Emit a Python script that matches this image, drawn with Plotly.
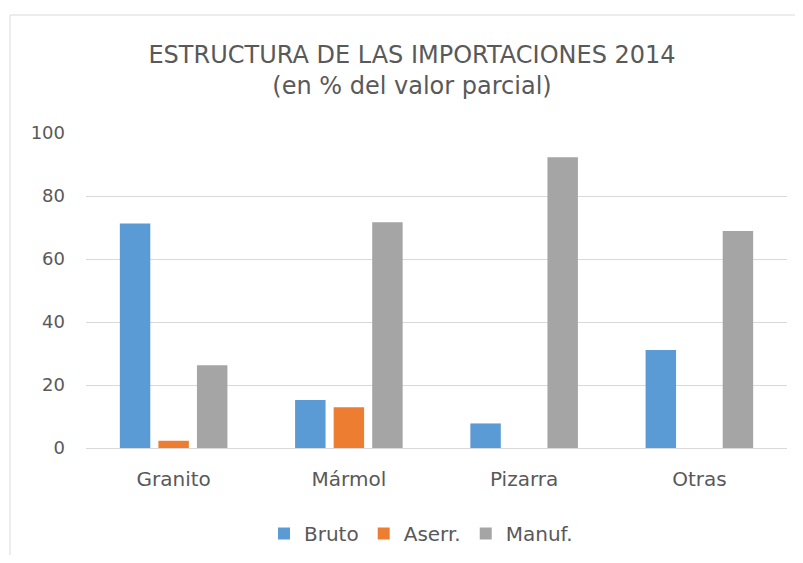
import plotly.graph_objects as go

categories = ["Granito", "Mármol", "Pizarra", "Otras"]
bruto = [71.3, 15.2, 7.8, 31.1]
aserr = [2.3, 12.9, 0, 0]
manuf = [26.3, 71.7, 92.3, 68.9]
y_ticks = [0, 20, 40, 60, 80, 100]

series = [("Bruto", bruto, "#5B9BD5"), ("Aserr.", aserr, "#ED7D31"), ("Manuf.", manuf, "#A5A5A5")]

# page body has an 8px margin, so the figure is shrunk and shifted to avoid overflow
W, H = 787, 547
L, R, T, B = 78, 8, 125, 107
pw, ph = W - L - R, H - T - B

fig = go.Figure()
for name, vals, col in series:
    fig.add_trace(go.Bar(x=categories, y=vals, name=name, marker=dict(color=col, line=dict(width=0))))

font_fam = "DejaVu Sans"
txt = "#595959"
frame = dict(color="#D9D9D9", width=1)
fx0 = (2 - L) / pw
fy1 = (H - B - 7) / ph

fig.update_layout(
    width=W, height=H,
    margin=dict(l=L, r=R, t=T, b=B),
    paper_bgcolor="white", plot_bgcolor="white",
    barmode="group", bargap=0.34, bargroupgap=0.21,
    font=dict(family=font_fam, color=txt),
    title=dict(text="ESTRUCTURA DE LAS IMPORTACIONES 2014<br>(en % del valor parcial)",
               x=404 / W, xref="container", xanchor="center",
               y=1 - 55 / H, yref="container", yanchor="top",
               font=dict(size=24, color=txt, family=font_fam)),
    legend=dict(orientation="h", x=413 / W, xref="container", xanchor="center",
                y=1 - 506 / H, yref="container", yanchor="top",
                font=dict(size=20, color=txt), itemwidth=30, traceorder="normal"),
    xaxis=dict(showgrid=False, showline=False, zeroline=False, ticks="",
               tickfont=dict(size=20, color=txt), ticklabelstandoff=17),
    yaxis=dict(range=[0, 100], tickvals=y_ticks, showgrid=True, gridcolor="#D9D9D9", gridwidth=1,
               zeroline=True, zerolinecolor="#D9D9D9", zerolinewidth=1, showline=False,
               ticks="", tickfont=dict(size=18, color=txt), ticklabelstandoff=20),
    shapes=[
        dict(type="line", xref="paper", yref="paper", x0=fx0, x1=(W - L) / pw,
             y0=fy1, y1=fy1, line=frame, layer="below"),
        dict(type="line", xref="paper", yref="paper", x0=fx0, x1=fx0,
             y0=-B / ph, y1=fy1, line=frame, layer="below"),
    ],
)

fig.write_html("out.html")
